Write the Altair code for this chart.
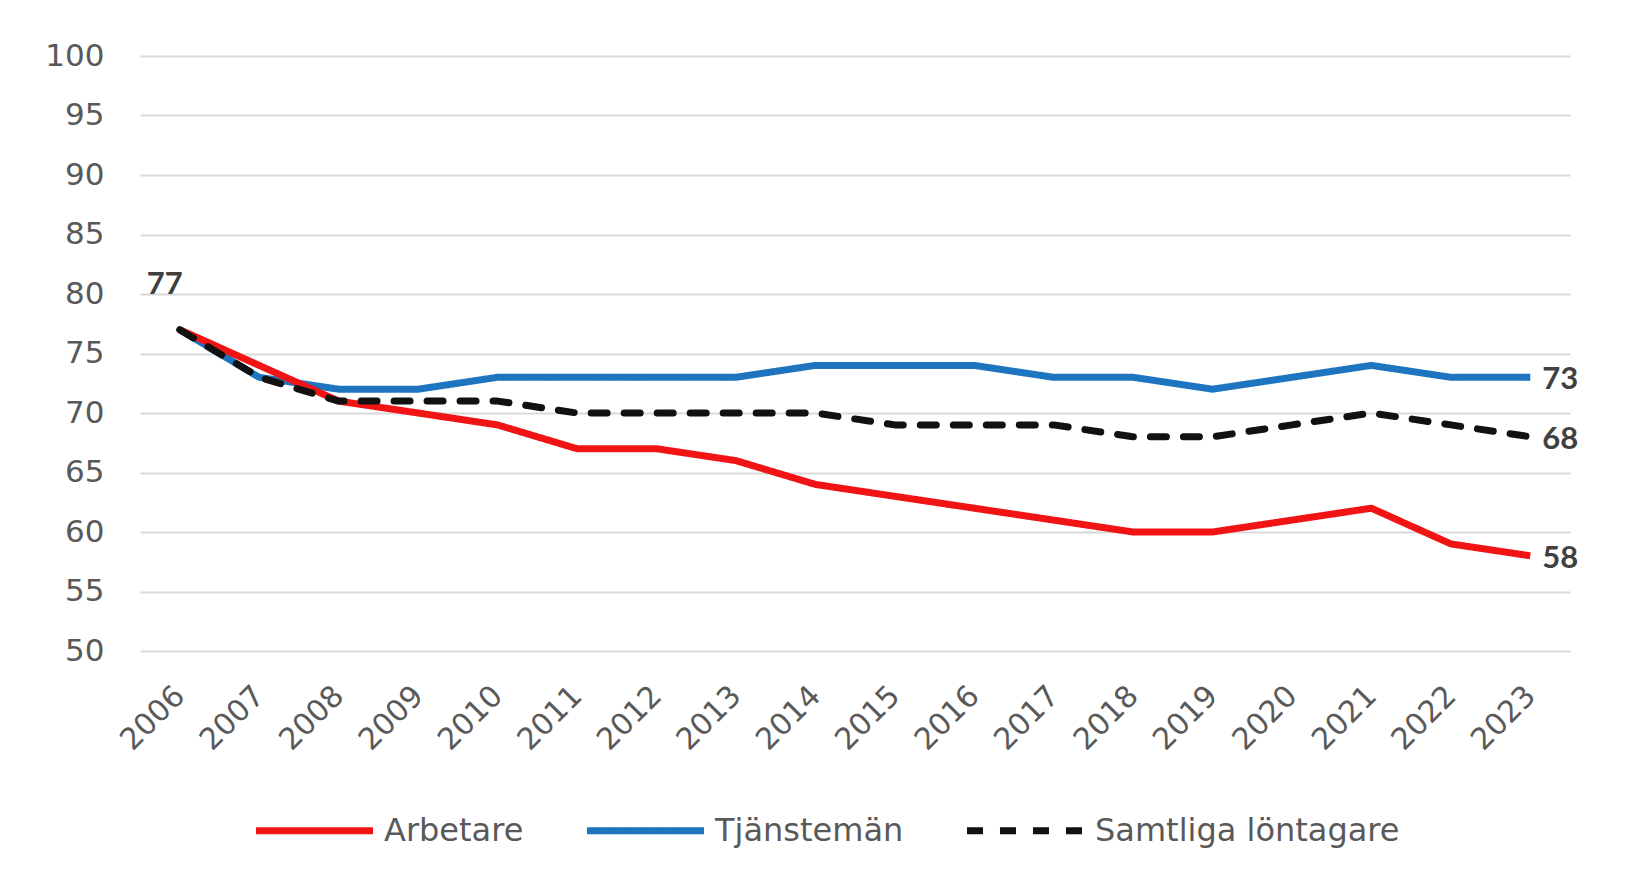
import altair as alt
import pandas as pd

years = [str(y) for y in range(2006, 2024)]
arbetare = [77, 74, 71, 70, 69, 67, 67, 66, 64, 63, 62, 61, 60, 60, 61, 62, 59, 58]
tjanstemen = [77, 73, 72, 72, 73, 73, 73, 73, 74, 74, 74, 73, 73, 72, 73, 74, 73, 73]
samtliga = [77, 73, 71, 71, 71, 70, 70, 70, 70, 69, 69, 69, 68, 68, 69, 70, 69, 68]

series_names = ["Arbetare", "Tjänstemän", "Samtliga löntagare"]
series_colors = ["#F01414", "#1F74C0", "#111111"]
series_dash = [[1, 0], [1, 0], [16, 17]]

rows = []
for name, vals in zip(series_names, [arbetare, tjanstemen, samtliga]):
    for i, (yr, v) in enumerate(zip(years, vals)):
        rows.append({"year": yr, "value": v, "series": name, "idx": i})
df = pd.DataFrame(rows)

last_idx = len(years) - 1

x_enc = alt.X(
    "year:O",
    scale=alt.Scale(type="point", padding=0.5),
    axis=alt.Axis(
        title=None, grid=False, domain=False, ticks=False,
        labelAngle=-45, labelAlign="right", labelBaseline="middle",
        labelPadding=40, labelFont="DejaVu Sans", labelFontSize=30,
        labelColor="#595959",
    ),
)
y_enc = alt.Y(
    "value:Q",
    scale=alt.Scale(domain=[50, 100], nice=False, zero=False),
    axis=alt.Axis(
        title=None, values=list(range(50, 101, 5)), domain=False, ticks=False,
        gridColor="#D9D9D9", gridWidth=2, labelPadding=36,
        labelFont="DejaVu Sans", labelFontSize=31, labelColor="#595959",
    ),
)
legend_cfg = dict(
    title=None, orient="none", direction="horizontal",
    legendX=112, legendY=712,
    labelFont="DejaVu Sans", labelFontSize=32, labelColor="#595959",
    labelLimit=600,
    symbolType="stroke", symbolSize=13700, symbolStrokeWidth=7,
    labelOffset=7, columnPadding=48,
)
color_enc = alt.Color(
    "series:N",
    scale=alt.Scale(domain=series_names, range=series_colors),
    legend=alt.Legend(**legend_cfg),
)
dash_enc = alt.StrokeDash(
    "series:N",
    scale=alt.Scale(domain=series_names, range=series_dash),
    legend=alt.Legend(**legend_cfg),
)

base = alt.Chart(df)

def line_layer(name, cap):
    return base.transform_filter(alt.datum.series == name).mark_line(
        strokeWidth=7, strokeCap=cap, strokeJoin="round"
    ).encode(x=x_enc, y=y_enc, color=color_enc, strokeDash=dash_enc)

lines = [
    line_layer("Tjänstemän", "butt"),
    line_layer("Arbetare", "butt"),
    line_layer("Samtliga löntagare", "round"),
]

end_labels = base.transform_filter(
    (alt.datum.idx == last_idx)
).mark_text(
    align="left", baseline="middle", dx=12, dy=3,
    font="Lato", fontWeight="bold", fontSize=31, color="#404040",
).encode(x=x_enc, y=y_enc, text="value:Q")

start_label = base.transform_filter(
    (alt.datum.idx == 0) & (alt.datum.series == "Samtliga löntagare")
).mark_text(
    align="center", baseline="middle", dx=-15, dy=-45,
    font="Lato", fontWeight="bold", fontSize=31, color="#404040",
).encode(x=x_enc, y=y_enc, text="value:Q")

chart = alt.layer(*lines, end_labels, start_label).properties(
    width=1430,
    height=595,
    padding={"left": 132, "top": 48, "right": 47, "bottom": 227},
    autosize=alt.AutoSizeParams(type="none"),
).configure_view(stroke=None)

chart.save("out.html", embed_options={"renderer": "svg", "actions": False})
